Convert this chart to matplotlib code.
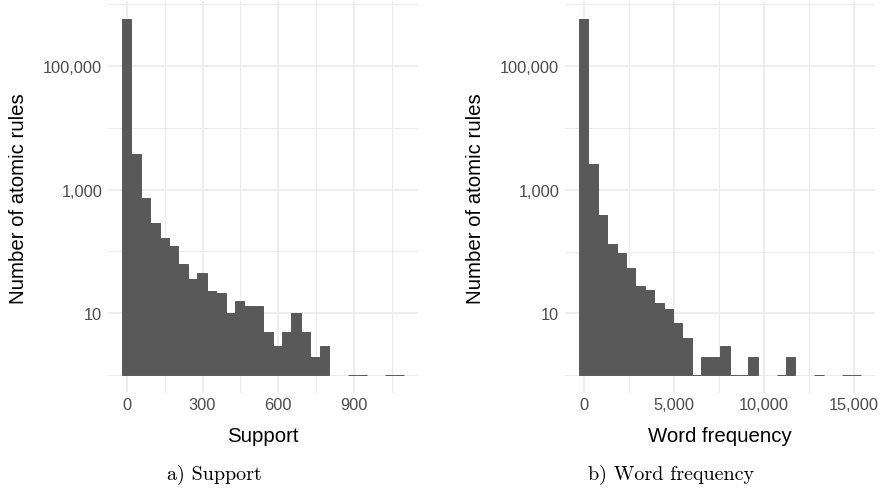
import matplotlib
matplotlib.use('Agg')
import matplotlib.pyplot as plt
from matplotlib.ticker import FixedLocator, FuncFormatter, NullFormatter
import numpy as np

plt.rcParams['font.family'] = ['Liberation Sans', 'DejaVu Sans']

# --------DATA--------
n_bins = 30

support_min, support_max = 0, 1080
support_counts = [571000, 3760, 731, 289, 165, 123, 63, 36, 45, 23,
                  21, 10, 16, 13, 13, 5, 3, 5, 10, 5,
                  2, 3, 0, 0, 1, 1, 0, 0, 1, 1]
support_major = [0, 300, 600, 900]
support_minor = [150, 450, 750, 1050]

freq_min, freq_max = 0, 15150
freq_counts = [573000, 2590, 389, 132, 95, 54, 28, 24, 15, 12,
               7, 4, 1, 2, 2, 3, 1, 1, 2, 0,
               0, 1, 2, 0, 0, 1, 0, 0, 1, 1]
freq_major = [0, 5000, 10000, 15000]
freq_minor = [2500, 7500, 12500]

y_major = [10, 1000, 100000]
y_minor = [1, 100, 10000, 1000000]

x_titles = ['Support', 'Word frequency']
captions = ['a) Support', 'b) Word frequency']

# --------STYLE--------
bar_color = '#595959'
grid_color = '#EBEBEB'
tick_color = '#4D4D4D'
base_size = 14.7

fig = plt.figure(figsize=(8.83, 4.89), dpi=100)
ax_left = fig.add_axes([0.1222, 0.1941, 0.3516, 0.8014])
ax_right = fig.add_axes([0.6397, 0.1941, 0.3517, 0.8014])


def draw_hist(ax, lo, hi, counts, major, minor, title):
	counts = np.array(counts)
	width = (hi - lo) / (n_bins - 1)  # ggplot style: first/last bin centred on min/max
	centers = lo + width * np.arange(n_bins)
	keep = counts > 0
	ax.bar(centers[keep], counts[keep] - 1, bottom=1, width=width,
	       color=bar_color, edgecolor=bar_color, linewidth=0.7, zorder=2)

	ax.set_yscale('log')
	# 5% expansion like ggplot
	x0, x1 = lo - width / 2, hi + width / 2
	pad = (x1 - x0) * 0.05
	ax.set_xlim(x0 - pad, x1 + pad)
	top = np.log10(counts.max())
	ax.set_ylim(10 ** (-0.05 * top), 10 ** (top * 1.05))

	ax.xaxis.set_major_locator(FixedLocator(major))
	ax.xaxis.set_minor_locator(FixedLocator(minor))
	ax.yaxis.set_major_locator(FixedLocator(y_major))
	ax.yaxis.set_minor_locator(FixedLocator(y_minor))
	fmt = FuncFormatter(lambda v, p: f'{v:,.0f}')
	ax.xaxis.set_major_formatter(fmt)
	ax.yaxis.set_major_formatter(fmt)
	ax.xaxis.set_minor_formatter(NullFormatter())
	ax.yaxis.set_minor_formatter(NullFormatter())

	ax.grid(True, which='major', color=grid_color, lw=1.2)
	ax.grid(True, which='minor', color=grid_color, lw=0.7)
	ax.set_axisbelow(True)
	for s in ax.spines.values():
		s.set_visible(False)
	ax.tick_params(which='both', length=0, labelsize=base_size * 0.8, labelcolor=tick_color)
	ax.tick_params(axis='x', pad=3)
	ax.tick_params(axis='y', pad=4)

	ax.set_xlabel(title, fontsize=base_size, labelpad=10)
	ax.set_ylabel('Number of atomic rules', fontsize=base_size, labelpad=11)


draw_hist(ax_left, support_min, support_max, support_counts, support_major, support_minor, x_titles[0])
draw_hist(ax_right, freq_min, freq_max, freq_counts, freq_major, freq_minor, x_titles[1])

fig.text(214 / 883, 1 - 475 / 489, captions[0], ha='center', va='center', family='cmr10', fontsize=14.5)
fig.text(671 / 883, 1 - 475 / 489, captions[1], ha='center', va='center', family='cmr10', fontsize=14.5)

fig.savefig('out.png', dpi=100)
